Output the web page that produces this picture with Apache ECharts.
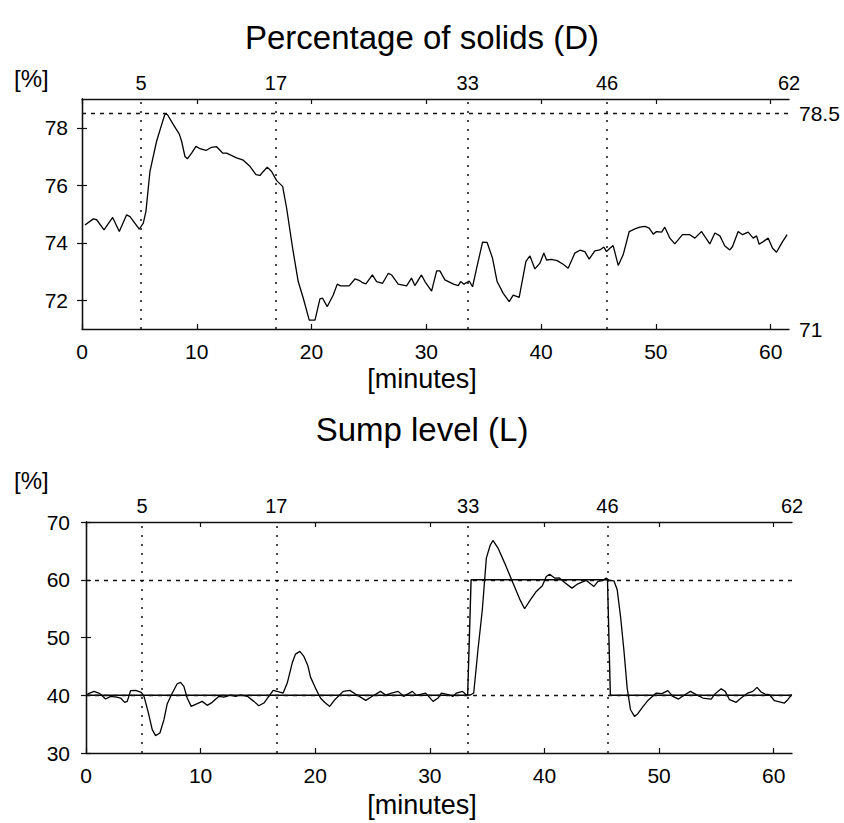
<!DOCTYPE html>
<html><head><meta charset="utf-8">
<script src="https://cdn.jsdelivr.net/npm/echarts@6/dist/echarts.min.js"></script>
<style>html,body{margin:0;padding:0;background:#fff}#c{width:844px;height:823px}</style>
</head><body><div id="c"></div>
<script>
// ---- Percentage of solids (D) ----
const solidsTime = [0.26,0.99,1.28,1.92,2.67,3.25,3.89,4.18,4.99,5.34,5.57,5.92,6.5,6.94,7.23,7.44,7.96,8.48,8.68,8.97,9.18,9.55,9.93,10.28,10.8,11.29,11.73,12.25,12.6,13.47,14.05,14.63,15.16,15.5,15.8,16.14,16.52,16.96,17.48,17.83,18.35,18.84,19.28,19.8,20.3,20.73,20.96,21.37,21.89,22.24,22.53,23.28,23.78,24.2,24.45,24.74,25.3,25.67,26.19,26.69,26.97,27.55,28.28,28.71,29.0,29.58,29.88,30.46,30.9,31.18,31.62,32.37,32.78,32.99,33.28,33.74,34.03,34.38,34.9,35.3,35.77,36.17,36.7,37.22,37.57,38.09,38.68,39.03,39.46,39.9,40.24,40.48,40.9,41.4,41.92,42.36,42.94,43.38,43.81,44.19,44.68,45.12,45.47,45.7,45.99,46.28,46.72,47.15,47.68,48.17,48.61,49.05,49.42,49.77,50.06,50.5,50.78,51.22,51.65,52.32,52.96,53.4,53.98,54.7,55.14,55.58,56.01,56.45,56.68,57.17,57.55,58.04,58.48,58.77,59.0,59.35,59.79,60.17,60.51,61.04,61.44];
const solidsValue = [74.62,74.83,74.8,74.45,74.88,74.39,74.97,74.91,74.47,74.68,75.09,76.48,77.53,78.11,78.48,78.46,78.11,77.78,77.53,77.0,76.92,77.12,77.35,77.27,77.21,77.32,77.34,77.12,77.12,76.95,76.87,76.66,76.37,76.34,76.48,76.63,76.48,76.16,75.96,75.2,73.81,72.65,72.07,71.31,71.31,72.05,72.07,71.78,72.18,72.56,72.5,72.5,72.74,72.68,72.61,72.57,72.88,72.65,72.59,72.94,72.88,72.56,72.5,72.77,72.51,72.88,72.65,72.32,73.02,73.02,72.71,72.56,72.51,72.65,72.56,72.67,72.47,73.11,74.02,74.01,73.46,72.65,72.24,71.95,72.18,72.1,73.35,73.54,73.09,73.29,73.64,73.4,73.42,73.38,73.25,73.11,73.64,73.74,73.69,73.43,73.72,73.75,73.85,73.69,73.81,73.9,73.21,73.58,74.39,74.48,74.54,74.57,74.51,74.3,74.39,74.37,74.54,74.16,73.96,74.28,74.28,74.16,74.39,73.96,74.34,74.24,73.89,73.75,73.87,74.39,74.28,74.37,74.16,74.24,73.95,74.04,74.16,73.81,73.67,74.04,74.28];
const solidsTicks = [72, 74, 76, 78];
const solidsRightLabels = [71, 78.5];
const solidsRef = 78.5;
const solidsEventTime = [5.15, 16.9, 33.6, 45.75, 61.6];

// ---- Sump level (L) ----
const levelTime = [0.12,0.7,1.22,1.71,2.15,2.67,3.02,3.37,3.6,3.89,4.33,4.82,5.06,5.41,5.78,6.07,6.45,6.8,7.09,7.53,7.96,8.25,8.54,8.83,9.18,9.71,10.14,10.58,11.01,11.6,12.03,12.61,13.05,13.48,14.07,14.65,15.08,15.52,15.95,16.33,16.68,17.2,17.56,17.99,18.28,18.66,19.01,19.36,19.59,20.02,20.46,20.84,21.27,21.71,22.44,23.02,23.6,24.41,25.05,25.69,26.15,26.65,27.23,27.72,28.48,28.83,29.64,30.28,30.72,31.01,31.59,32.03,32.32,32.85,33.19,33.54,33.83,34.2,34.58,34.93,35.28,35.51,35.95,36.53,37.2,37.84,38.27,38.77,39.29,39.82,40.16,40.45,40.89,41.3,41.76,42.4,42.92,43.65,44.32,44.67,45.1,45.39,45.68,46.06,46.35,46.64,46.93,47.22,47.51,47.86,48.15,48.5,49.03,49.75,50.25,50.77,51.2,51.7,52.22,52.74,53.24,53.82,54.55,54.9,55.42,55.77,56.15,56.73,57.16,57.74,58.18,58.55,58.9,59.24,59.62,60.07,60.59,60.94,61.23,61.58];
const levelValue = [40.2,40.67,40.27,39.35,39.81,39.69,39.52,38.77,38.94,40.79,40.85,40.5,39.81,37.21,34.04,33.0,33.46,35.77,38.54,40.38,41.99,42.23,41.54,39.52,38.07,38.54,38.94,38.25,38.77,39.81,39.69,40.04,39.81,40.04,39.81,38.94,38.19,38.65,39.81,40.85,40.67,40.38,42.11,45.57,47.13,47.59,46.72,45.1,43.14,41.24,39.52,38.75,38.07,39.23,40.67,40.85,40.1,39.11,39.92,40.67,40.04,40.38,40.67,39.81,40.67,39.98,40.38,38.94,39.52,40.38,40.1,39.81,40.38,40.67,40.04,40.04,40.38,47.88,54.8,63.75,66.05,66.8,65.48,62.88,59.71,56.65,54.98,56.53,57.97,58.95,60.56,60.96,60.29,60.3,59.53,58.55,59.3,59.88,58.84,59.71,59.88,60.29,59.88,59.82,58.26,53.64,47.87,41.24,37.49,36.33,36.8,37.78,39.11,40.38,40.27,40.79,39.81,39.34,40.04,40.67,40.1,39.52,39.34,40.27,41.13,40.67,39.23,38.77,39.52,40.38,40.67,41.36,40.56,40.21,40.1,39.05,38.82,38.65,39.23,40.1];
const setpointTime = [0, 33.3, 33.6, 45.5, 45.75, 61.6];
const setpointValue = [40, 40, 60, 60, 40, 40];
const levelTicks = [30, 40, 50, 60, 70];
const levelRefs = [60, 40];
const levelEventTime = [4.9, 16.6, 33.35, 45.5, 61.6];

// ---- shared ----
const eventLabels = ['5', '17', '33', '46', '62'];
const xTicks = [0, 10, 20, 30, 40, 50, 60];
const xMin = 0, xMax = 61.6, xInterval = 10;

const pairs = (t, v) => t.map((x, i) => [x, v[i]]);
const FONT = '"Liberation Sans", Arial, Helvetica, sans-serif';
const axisLineStyle = { show: true, lineStyle: { color: '#111', width: 1.3 } };
const labelFont = { fontSize: 21, color: '#000', fontFamily: FONT };

function xAxes(gridIndex, events) {
  return [
    { gridIndex, type: 'value', position: 'bottom', min: xMin, max: xMax, interval: xInterval,
      axisLine: axisLineStyle,
      axisTick: { inside: true, length: 5, customValues: xTicks, lineStyle: { color: '#111', width: 1.2 } },
      axisLabel: Object.assign({ margin: 12, customValues: xTicks }, labelFont),
      splitLine: { show: false } },
    { gridIndex, type: 'value', position: 'top', min: xMin, max: xMax, interval: xInterval,
      axisLine: axisLineStyle,
      axisTick: { inside: true, length: 5, customValues: xTicks, lineStyle: { color: '#111', width: 1.2 } },
      axisLabel: Object.assign({
        margin: 6, customValues: events,
        formatter: v => { const i = events.findIndex(e => Math.abs(e - v) < 1e-6); return i >= 0 ? eventLabels[i] : ''; }
      }, labelFont, { fontSize: 20 }),
      splitLine: { show: false } }
  ];
}

function eventLines(times, extra) {
  const d = times.slice(0, times.length - 1).map(t => ({ xAxis: t }));
  return {
    silent: true, symbol: ['none', 'none'], animation: false,
    lineStyle: { type: [2, 7], color: '#111', width: 1.5 },
    label: { show: false },
    data: d.concat(extra)
  };
}

const option = {
  animation: false,
  backgroundColor: '#fff',
  textStyle: { fontFamily: FONT },
  grid: [
    { left: 82, top: 99, width: 707, height: 230 },
    { left: 86, top: 522, width: 706, height: 231 }
  ],
  xAxis: xAxes(0, solidsEventTime).concat(xAxes(1, levelEventTime)),
  yAxis: [
    { gridIndex: 0, type: 'value', position: 'left', min: 71, max: 79,
      axisLine: axisLineStyle,
      axisTick: { inside: true, length: 5, customValues: solidsTicks, lineStyle: { color: '#111', width: 1.2 } },
      axisLabel: Object.assign({ customValues: solidsTicks, margin: 14 }, labelFont),
      splitLine: { show: false } },
    { gridIndex: 0, type: 'value', position: 'right', min: 71, max: 79,
      axisLine: axisLineStyle,
      axisTick: { inside: true, length: 5, customValues: solidsTicks, lineStyle: { color: '#111', width: 1.2 } },
      axisLabel: Object.assign({ customValues: solidsRightLabels, margin: 10 }, labelFont),
      splitLine: { show: false } },
    { gridIndex: 1, type: 'value', position: 'left', min: 30, max: 70, interval: 10,
      axisLine: axisLineStyle,
      axisTick: { inside: true, length: 5, customValues: levelTicks, lineStyle: { color: '#111', width: 1.2 } },
      axisLabel: Object.assign({ customValues: levelTicks, margin: 16 }, labelFont),
      splitLine: { show: false } },
    { gridIndex: 1, type: 'value', position: 'right', min: 30, max: 70, interval: 10,
      axisLine: axisLineStyle,
      axisTick: { inside: true, length: 5, customValues: levelTicks, lineStyle: { color: '#111', width: 1.2 } },
      axisLabel: { show: false }, splitLine: { show: false } }
  ],
  series: [
    { type: 'line', name: 'Percentage of solids', xAxisIndex: 0, yAxisIndex: 0,
      data: pairs(solidsTime, solidsValue), showSymbol: false, symbol: 'none',
      lineStyle: { color: '#000', width: 1.3 },
      markLine: eventLines(solidsEventTime, [
        { yAxis: solidsRef, lineStyle: { type: [4, 5], color: '#111', width: 1.3 } }
      ]) },
    { type: 'line', name: 'Sump level setpoint', xAxisIndex: 2, yAxisIndex: 2,
      data: pairs(setpointTime, setpointValue), showSymbol: false, symbol: 'none',
      lineStyle: { color: '#000', width: 1.4 } },
    { type: 'line', name: 'Sump level', xAxisIndex: 2, yAxisIndex: 2,
      data: pairs(levelTime, levelValue), showSymbol: false, symbol: 'none',
      lineStyle: { color: '#000', width: 1.3 },
      markLine: eventLines(levelEventTime, levelRefs.map(v => (
        { yAxis: v, lineStyle: { type: [4, 5], color: '#111', width: 1.3 } }
      ))) }
  ],
  graphic: [
    { type: 'text', left: 'center', top: 21, style: { text: 'Percentage of solids (D)', font: '33px ' + FONT, fill: '#000' } },
    { type: 'text', left: 14, top: 66, style: { text: '[%]', font: '24px ' + FONT, fill: '#000' } },
    { type: 'text', left: 'center', top: 365, style: { text: '[minutes]', font: '27px ' + FONT, fill: '#000' } },
    { type: 'text', left: 'center', top: 413, style: { text: 'Sump level (L)', font: '33px ' + FONT, fill: '#000' } },
    { type: 'text', left: 14, top: 468, style: { text: '[%]', font: '24px ' + FONT, fill: '#000' } },
    { type: 'text', left: 'center', top: 791, style: { text: '[minutes]', font: '27px ' + FONT, fill: '#000' } }
  ]
};

const chart = echarts.init(document.getElementById('c'), null, { renderer: 'svg' });
chart.setOption(option);
</script>
</body></html>
